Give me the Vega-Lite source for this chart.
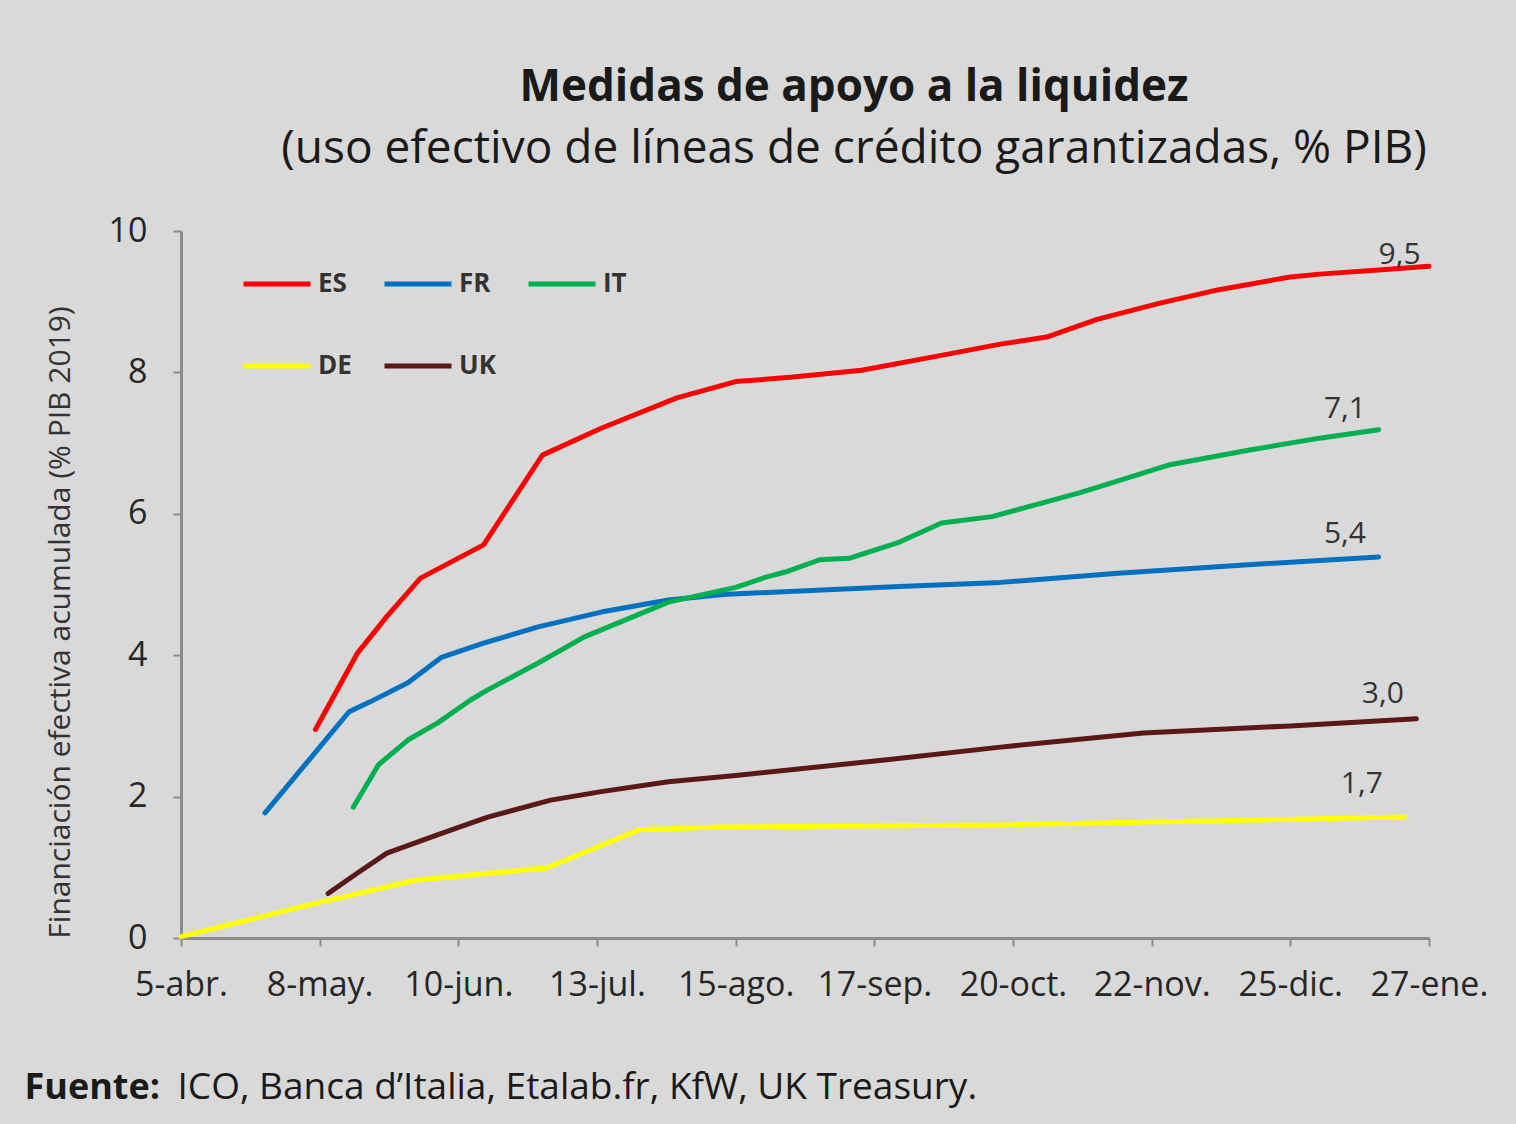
{
  "$schema": "https://vega.github.io/schema/vega-lite/v6.json",
  "width": 1248,
  "height": 707,
  "autosize": "none",
  "padding": {"left": 181, "top": 231, "right": 87, "bottom": 186},
  "background": "#d9d9d9",
  "config": {"font": "Open Sans", "view": {"stroke": null}},
  "title": {
    "text": "Medidas de apoyo a la liquidez",
    "subtitle": "(uso efectivo de líneas de crédito garantizadas, % PIB)",
    "anchor": "middle",
    "dx": 49,
    "offset": 42,
    "fontSize": 44,
    "fontWeight": "bold",
    "color": "#1a1a1a",
    "subtitleFontSize": 46,
    "subtitleColor": "#1a1a1a",
    "subtitlePadding": 17
  },
  "datasets": {
    "series": [
      {"pais": "ES", "fecha": "2020-05-07", "valor": 2.95},
      {"pais": "ES", "fecha": "2020-05-17", "valor": 4.03},
      {"pais": "ES", "fecha": "2020-05-24", "valor": 4.55},
      {"pais": "ES", "fecha": "2020-06-01", "valor": 5.09},
      {"pais": "ES", "fecha": "2020-06-16", "valor": 5.56},
      {"pais": "ES", "fecha": "2020-06-30", "valor": 6.83},
      {"pais": "ES", "fecha": "2020-07-14", "valor": 7.21},
      {"pais": "ES", "fecha": "2020-08-01", "valor": 7.64},
      {"pais": "ES", "fecha": "2020-08-15", "valor": 7.87},
      {"pais": "ES", "fecha": "2020-08-28", "valor": 7.93},
      {"pais": "ES", "fecha": "2020-09-14", "valor": 8.03},
      {"pais": "ES", "fecha": "2020-10-02", "valor": 8.23},
      {"pais": "ES", "fecha": "2020-10-17", "valor": 8.4},
      {"pais": "ES", "fecha": "2020-10-28", "valor": 8.5},
      {"pais": "ES", "fecha": "2020-11-09", "valor": 8.75},
      {"pais": "ES", "fecha": "2020-11-24", "valor": 8.98},
      {"pais": "ES", "fecha": "2020-12-08", "valor": 9.17},
      {"pais": "ES", "fecha": "2020-12-25", "valor": 9.35},
      {"pais": "ES", "fecha": "2021-01-01", "valor": 9.39},
      {"pais": "ES", "fecha": "2021-01-15", "valor": 9.45},
      {"pais": "ES", "fecha": "2021-01-27", "valor": 9.5},
      {"pais": "FR", "fecha": "2020-04-25", "valor": 1.77},
      {"pais": "FR", "fecha": "2020-05-15", "valor": 3.2},
      {"pais": "FR", "fecha": "2020-05-20", "valor": 3.34},
      {"pais": "FR", "fecha": "2020-05-29", "valor": 3.61},
      {"pais": "FR", "fecha": "2020-06-06", "valor": 3.97},
      {"pais": "FR", "fecha": "2020-06-16", "valor": 4.17},
      {"pais": "FR", "fecha": "2020-06-29", "valor": 4.4},
      {"pais": "FR", "fecha": "2020-07-14", "valor": 4.61},
      {"pais": "FR", "fecha": "2020-07-30", "valor": 4.78},
      {"pais": "FR", "fecha": "2020-08-12", "valor": 4.86},
      {"pais": "FR", "fecha": "2020-09-23", "valor": 4.97},
      {"pais": "FR", "fecha": "2020-10-17", "valor": 5.03},
      {"pais": "FR", "fecha": "2020-11-14", "valor": 5.16},
      {"pais": "FR", "fecha": "2020-12-15", "valor": 5.28},
      {"pais": "FR", "fecha": "2021-01-15", "valor": 5.39},
      {"pais": "IT", "fecha": "2020-05-16", "valor": 1.85},
      {"pais": "IT", "fecha": "2020-05-22", "valor": 2.45},
      {"pais": "IT", "fecha": "2020-05-29", "valor": 2.8},
      {"pais": "IT", "fecha": "2020-06-05", "valor": 3.04},
      {"pais": "IT", "fecha": "2020-06-13", "valor": 3.37},
      {"pais": "IT", "fecha": "2020-06-17", "valor": 3.51},
      {"pais": "IT", "fecha": "2020-06-29", "valor": 3.89},
      {"pais": "IT", "fecha": "2020-07-10", "valor": 4.26},
      {"pais": "IT", "fecha": "2020-07-30", "valor": 4.75},
      {"pais": "IT", "fecha": "2020-08-15", "valor": 4.96},
      {"pais": "IT", "fecha": "2020-08-22", "valor": 5.1},
      {"pais": "IT", "fecha": "2020-08-27", "valor": 5.18},
      {"pais": "IT", "fecha": "2020-09-04", "valor": 5.35},
      {"pais": "IT", "fecha": "2020-09-11", "valor": 5.37},
      {"pais": "IT", "fecha": "2020-09-23", "valor": 5.6},
      {"pais": "IT", "fecha": "2020-10-03", "valor": 5.87},
      {"pais": "IT", "fecha": "2020-10-15", "valor": 5.96},
      {"pais": "IT", "fecha": "2020-11-05", "valor": 6.3},
      {"pais": "IT", "fecha": "2020-11-26", "valor": 6.69},
      {"pais": "IT", "fecha": "2020-12-15", "valor": 6.9},
      {"pais": "IT", "fecha": "2021-01-01", "valor": 7.07},
      {"pais": "IT", "fecha": "2021-01-15", "valor": 7.19},
      {"pais": "DE", "fecha": "2020-04-05", "valor": 0.02},
      {"pais": "DE", "fecha": "2020-05-07", "valor": 0.49},
      {"pais": "DE", "fecha": "2020-05-31", "valor": 0.82},
      {"pais": "DE", "fecha": "2020-07-01", "valor": 0.99},
      {"pais": "DE", "fecha": "2020-07-23", "valor": 1.53},
      {"pais": "DE", "fecha": "2020-08-11", "valor": 1.57},
      {"pais": "DE", "fecha": "2020-10-17", "valor": 1.6},
      {"pais": "DE", "fecha": "2021-01-21", "valor": 1.71},
      {"pais": "UK", "fecha": "2020-05-10", "valor": 0.63},
      {"pais": "UK", "fecha": "2020-05-17", "valor": 0.92},
      {"pais": "UK", "fecha": "2020-05-24", "valor": 1.2},
      {"pais": "UK", "fecha": "2020-06-05", "valor": 1.46},
      {"pais": "UK", "fecha": "2020-06-17", "valor": 1.71},
      {"pais": "UK", "fecha": "2020-07-02", "valor": 1.95},
      {"pais": "UK", "fecha": "2020-07-14", "valor": 2.07},
      {"pais": "UK", "fecha": "2020-07-30", "valor": 2.21},
      {"pais": "UK", "fecha": "2020-08-15", "valor": 2.3},
      {"pais": "UK", "fecha": "2020-09-20", "valor": 2.52},
      {"pais": "UK", "fecha": "2020-10-17", "valor": 2.7},
      {"pais": "UK", "fecha": "2020-11-20", "valor": 2.9},
      {"pais": "UK", "fecha": "2020-12-25", "valor": 3.0},
      {"pais": "UK", "fecha": "2021-01-24", "valor": 3.1}
    ],
    "etiquetas": [
      {"pais": "ES", "fecha": "2021-01-20", "valor": 9.54, "etiqueta": "9,5"},
      {"pais": "IT", "fecha": "2021-01-07", "valor": 7.36, "etiqueta": "7,1"},
      {"pais": "FR", "fecha": "2021-01-07", "valor": 5.59, "etiqueta": "5,4"},
      {"pais": "UK", "fecha": "2021-01-16", "valor": 3.32, "etiqueta": "3,0"},
      {"pais": "DE", "fecha": "2021-01-11", "valor": 2.05, "etiqueta": "1,7"}
    ]
  },
  "layer": [
    {
      "data": {"name": "series"},
      "mark": {"type": "line", "strokeWidth": 5, "strokeCap": "round", "strokeJoin": "round"},
      "encoding": {
        "x": {
          "field": "fecha",
          "type": "temporal",
          "scale": {
            "type": "utc",
            "nice": false,
            "domain": [
              {"year": 2020, "month": 4, "date": 5, "utc": true},
              {"year": 2021, "month": 1, "date": 27, "utc": true}
            ]
          },
          "axis": {
            "values": [
              {"year": 2020, "month": 4, "date": 5, "utc": true},
              {"year": 2020, "month": 5, "date": 8, "utc": true},
              {"year": 2020, "month": 6, "date": 10, "utc": true},
              {"year": 2020, "month": 7, "date": 13, "utc": true},
              {"year": 2020, "month": 8, "date": 15, "utc": true},
              {"year": 2020, "month": 9, "date": 17, "utc": true},
              {"year": 2020, "month": 10, "date": 20, "utc": true},
              {"year": 2020, "month": 11, "date": 22, "utc": true},
              {"year": 2020, "month": 12, "date": 25, "utc": true},
              {"year": 2021, "month": 1, "date": 27, "utc": true}
            ],
            "labelExpr": "utcdate(datum.value) + '-' + ['ene','feb','mar','abr','may','jun','jul','ago','sep','oct','nov','dic'][utcmonth(datum.value)] + '.'",
            "labelFontSize": 34,
            "labelColor": "#262626",
            "labelPadding": 22,
            "labelFlush": false,
            "labelOverlap": false,
            "tickSize": 8,
            "tickWidth": 2,
            "tickColor": "#8c8c8c",
            "domainColor": "#8c8c8c",
            "domainWidth": 3,
            "grid": false,
            "title": "Fuente:",
            "titleFontSize": 36,
            "titleFontWeight": "bold",
            "titleColor": "#1a1a1a",
            "titleAlign": "left",
            "titleBaseline": "alphabetic",
            "titleX": -157,
            "titleY": 160
          }
        },
        "y": {
          "field": "valor",
          "type": "quantitative",
          "scale": {"domain": [0, 10], "nice": false},
          "axis": {
            "values": [0, 2, 4, 6, 8, 10],
            "labelFontSize": 34,
            "labelColor": "#262626",
            "labelPadding": 26,
            "tickSize": 8,
            "tickWidth": 2,
            "tickColor": "#8c8c8c",
            "domainColor": "#8c8c8c",
            "domainWidth": 3,
            "grid": false,
            "title": "Financiación efectiva acumulada (% PIB 2019)",
            "titleFontSize": 30,
            "titleFontWeight": "normal",
            "titleColor": "#333333",
            "titleAngle": -90,
            "titleAlign": "center",
            "titleBaseline": "middle",
            "titleX": -121,
            "titleY": 391
          }
        },
        "color": {
          "field": "pais",
          "type": "nominal",
          "scale": {
            "domain": ["ES", "FR", "IT", "DE", "UK"],
            "range": ["#ff0000", "#0070c0", "#00b050", "#ffff00", "#5a1818"]
          },
          "legend": {
            "title": null,
            "orient": "none",
            "legendX": 60,
            "legendY": 17,
            "direction": "horizontal",
            "columns": 3,
            "symbolType": "stroke",
            "symbolSize": 4489,
            "symbolStrokeWidth": 5,
            "labelFontSize": 26,
            "labelFontWeight": "bold",
            "labelColor": "#333333",
            "labelOffset": 5,
            "columnPadding": 22,
            "rowPadding": 33,
            "padding": 0
          }
        }
      }
    },
    {
      "data": {"name": "etiquetas"},
      "mark": {"type": "text", "fontSize": 30, "color": "#333333", "baseline": "alphabetic", "align": "center"},
      "encoding": {
        "x": {"field": "fecha", "type": "temporal"},
        "y": {
          "field": "valor",
          "type": "quantitative",
          "axis": {
            "orient": "right",
            "domain": false,
            "ticks": false,
            "labels": false,
            "grid": false,
            "title": "ICO, Banca d’Italia, Etalab.fr, KfW, UK Treasury.",
            "titleFontSize": 37,
            "titleFontWeight": "normal",
            "titleColor": "#1a1a1a",
            "titleAngle": 0,
            "titleAlign": "left",
            "titleBaseline": "alphabetic",
            "titleX": -1252,
            "titleY": 867
          }
        },
        "text": {"field": "etiqueta"}
      }
    }
  ],
  "resolve": {"axis": {"y": "independent"}}
}
